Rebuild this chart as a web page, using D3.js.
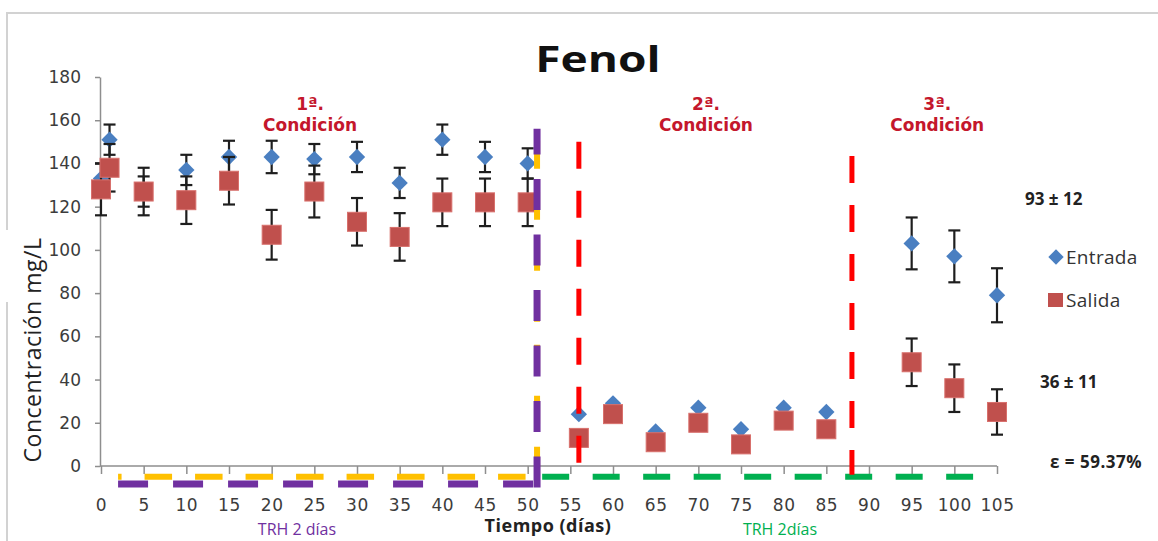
<!DOCTYPE html>
<html>
<head>
<meta charset="utf-8">
<script src="https://cdn.jsdelivr.net/npm/d3@7"></script>
<style>
  html, body { margin: 0; padding: 0; background: #fff; }
  svg { display: block; }
</style>
</head>
<body>
<svg id="chart" width="1158" height="541"></svg>
<script>
// Sampling days and measured phenol concentration (mg/L)
const dias = [0, 1, 5, 10, 15, 20, 25, 30, 35, 40, 45, 50,
              56, 60, 65, 70, 75, 80, 85, 95, 100, 105];
const entrada = [133, 151, 127, 137, 143, 143, 142, 143, 131, 151, 143, 140,
                 24, 29, 16, 27, 17, 27, 25, 103, 97, 79];
const entradaErr = [7, 7, 7, 7, 7.5, 7.5, 7, 7, 7, 7, 7, 7,
                    0, 0, 0, 0, 0, 0, 0, 12, 12, 12.5];
const salida = [128, 138, 127, 123, 132, 107, 127, 113, 106, 122, 122, 122,
                13, 24, 11, 20, 10, 21, 17, 48, 36, 25];
const salidaErr = [12, 11, 11, 11, 11, 11.5, 12, 11, 11, 11, 11, 11,
                   0, 0, 0, 0, 0, 0, 0, 11, 11, 10.5];

const xTicks = d3.range(0, 106, 5);
const yTicks = d3.range(0, 181, 20);

// Condition boundaries (day) and their vertical extent (mg/L)
const limites = [
  { dia: 56, desde: 0, hasta: 150 },
  { dia: 88, desde: -4, hasta: 143.5 }
];
// Hydraulic retention time markers under the axis
const trhMorado = { desde: 2, hasta: 51.1, nivel: -8.3, tope: 156 };
const trhAmarillo = { desde: 2, hasta: 51.1, nivel: -5, tope: 150.5 };
const trhVerde = { desde: 51.7, hasta: 102.2, nivel: -5 };

const condiciones = [
  { dia: 24.5, num: "1ª." },
  { dia: 70.9, num: "2ª." },
  { dia: 98, num: "3ª." }
];
const resumen = ["93 ± 12", "36 ± 11", "ε = 59.37%"];

const svg = d3.select("#chart");
const x = d3.scaleLinear().domain([0, 105]).range([101, 997]);
const y = d3.scaleLinear().domain([0, 180]).range([466, 77]);

// outer frame
svg.append("path")
  .attr("d", "M1158,13 H7 V230 M7,302 V541")
  .attr("fill", "none").attr("stroke", "#d2d2d2").attr("stroke-width", 2);

// axes
const axisColor = "#8e8e8e";
const gx = svg.append("g").attr("transform", `translate(0,${y(0)})`)
  .call(d3.axisBottom(x).tickValues(xTicks).tickSizeInner(8).tickSizeOuter(0).tickPadding(25));
const gy = svg.append("g").attr("transform", `translate(${x(0) - 1},0)`)
  .call(d3.axisLeft(y).tickValues(yTicks).tickSizeInner(5).tickSizeOuter(0).tickPadding(14));
[gx, gy].forEach(g => {
  g.selectAll("path, line").attr("stroke", axisColor).attr("stroke-width", 1.5);
  g.selectAll("text").attr("fill", "#3c3c3c")
    .style("font-family", "'DejaVu Sans', sans-serif").style("font-size", "17px");
});
gx.selectAll("text").style("letter-spacing", "0.6px");
gx.select(".domain").attr("d", `M${x(0) - 1},0H${x(105)}`);

const pts = dias.map((d, i) => ({
  d, e: entrada[i], ee: entradaErr[i], s: salida[i], se: salidaErr[i]
}));

// error bars
function errorBars(key, errKey) {
  const g = svg.append("g").attr("stroke", "#1e1e1e").attr("stroke-width", 2.2);
  pts.filter(p => p[errKey] > 0).forEach(p => {
    const cx = x(p.d), top = y(p[key] + p[errKey]), bot = y(p[key] - p[errKey]);
    g.append("line").attr("x1", cx).attr("x2", cx).attr("y1", top).attr("y2", bot);
    g.append("line").attr("x1", cx - 6).attr("x2", cx + 6).attr("y1", top).attr("y2", top);
    g.append("line").attr("x1", cx - 6).attr("x2", cx + 6).attr("y1", bot).attr("y2", bot);
  });
}
errorBars("e", "ee");
svg.append("g").selectAll("path").data(pts).join("path")
  .attr("d", d3.symbol(d3.symbolDiamond2, 170)())
  .attr("transform", p => `translate(${x(p.d)},${y(p.e)})`)
  .attr("fill", "#4a7fc1");

errorBars("s", "se");
svg.append("g").selectAll("rect").data(pts).join("rect")
  .attr("x", p => x(p.d) - 9.5).attr("y", p => y(p.s) - 9.5)
  .attr("width", 19).attr("height", 19)
  .attr("fill", "#c0504d").attr("stroke", "#d8706c").attr("stroke-width", 1);

// retention time markers
function segment(color, width, dash, x1, y1, x2, y2, offset) {
  svg.append("line")
    .attr("x1", x1).attr("y1", y1).attr("x2", x2).attr("y2", y2)
    .attr("stroke", color).attr("stroke-width", width)
    .attr("stroke-dasharray", dash).attr("stroke-dashoffset", offset || 0);
}
segment("#ffc000", 6, "27.5 23", x(trhAmarillo.desde), y(trhAmarillo.nivel),
        x(trhAmarillo.hasta), y(trhAmarillo.nivel), 24);
segment("#ffc000", 6, "28 23", x(trhAmarillo.hasta), y(trhAmarillo.tope),
        x(trhAmarillo.hasta), y(trhAmarillo.nivel));
segment("#7030a0", 7, "30 25", x(trhMorado.desde), y(trhMorado.nivel),
        x(trhMorado.hasta), y(trhMorado.nivel));
segment("#7030a0", 7, "31 24.5", x(trhMorado.hasta), y(trhMorado.nivel) + 3.5,
        x(trhMorado.hasta), y(trhMorado.tope));
segment("#00b050", 6, "27 23.5", x(trhVerde.desde), y(trhVerde.nivel),
        x(trhVerde.hasta), y(trhVerde.nivel));

// condition boundaries
limites.forEach(l => {
  segment("#ff0000", 5, "27 22", x(l.dia), y(l.hasta), x(l.dia), y(l.desde));
});

// title, slightly widened like the rest of the lettering
svg.append("text").attr("transform", "translate(598,72) scale(1.28,1)")
  .attr("text-anchor", "middle")
  .style("font-family", "'Open Sans', sans-serif").style("font-weight", "700")
  .style("font-size", "36px").attr("fill", "#111").text("Fenol");

// condition labels
condiciones.forEach(c => {
  const t = svg.append("text").attr("text-anchor", "middle")
    .style("font-family", "'DejaVu Sans', sans-serif").style("font-weight", "700")
    .style("font-size", "17px").attr("fill", "#c4172c");
  t.append("tspan").attr("x", x(c.dia)).attr("y", 110).text(c.num);
  t.append("tspan").attr("x", x(c.dia)).attr("y", 131).text("Condición");
});

// summary values
const sumStyle = s => s.style("font-family", "'Open Sans', sans-serif")
  .style("font-weight", "700").style("font-size", "17px").attr("fill", "#222");
sumStyle(svg.append("text").attr("x", 1025).attr("y", 205).text(resumen[0]));
sumStyle(svg.append("text").attr("x", 1040).attr("y", 388).text(resumen[1]));
sumStyle(svg.append("text").attr("x", 1050).attr("y", 468).style("letter-spacing", "0.5px").text(resumen[2]));

// legend
const leg = svg.append("g");
leg.append("path").attr("d", d3.symbol(d3.symbolDiamond2, 150)())
  .attr("transform", "translate(1056,257)").attr("fill", "#4a7fc1");
leg.append("rect").attr("x", 1048).attr("y", 293).attr("width", 15).attr("height", 14)
  .attr("fill", "#c0504d");
[["Entrada", 264], ["Salida", 307]].forEach(([t, yy]) => {
  leg.append("text").attr("x", 1066).attr("y", yy)
    .style("font-family", "'Open Sans', sans-serif").style("font-size", "19px")
    .style("letter-spacing", "0.3px")
    .attr("fill", "#333").text(t);
});

// axis titles
svg.append("text").attr("transform", "translate(41,350) rotate(-90)")
  .attr("text-anchor", "middle")
  .style("font-family", "'Open Sans', sans-serif").style("font-size", "23px")
  .style("letter-spacing", "0.5px")
  .attr("fill", "#222").text("Concentración mg/L");
svg.append("text").attr("x", 548).attr("y", 532).attr("text-anchor", "middle")
  .style("font-family", "'Open Sans', sans-serif").style("font-weight", "700")
  .style("font-size", "18px").style("letter-spacing", "0.5px")
  .attr("fill", "#222").text("Tiempo (días)");
svg.append("text").attr("x", 297).attr("y", 535).attr("text-anchor", "middle")
  .style("font-family", "'Open Sans', sans-serif").style("font-size", "16px")
  .attr("fill", "#7030a0").text("TRH 2 días");
svg.append("text").attr("x", 780).attr("y", 535).attr("text-anchor", "middle")
  .style("font-family", "'Open Sans', sans-serif").style("font-size", "16px")
  .attr("fill", "#00b050").text("TRH 2días");
</script>
</body>
</html>
